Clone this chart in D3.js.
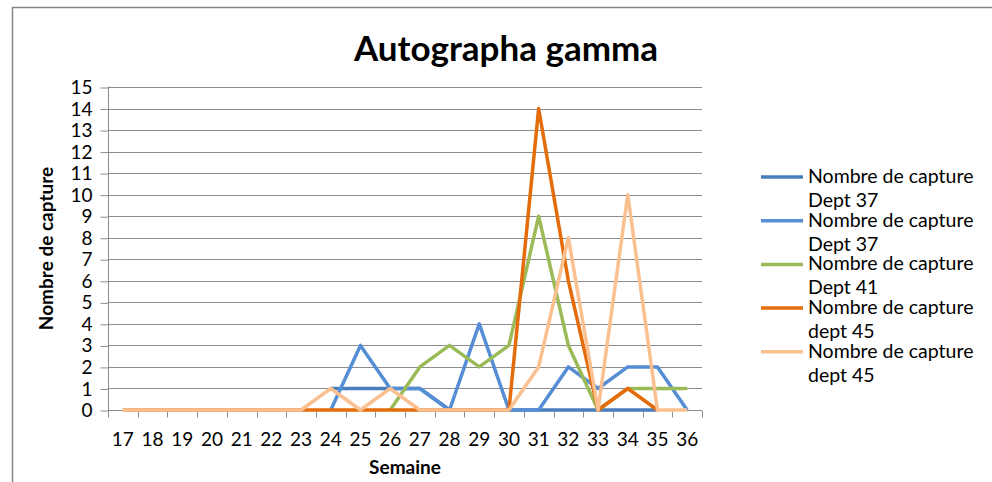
<!DOCTYPE html>
<html>
<head>
<meta charset="utf-8">
<script src="https://cdn.jsdelivr.net/npm/d3@7"></script>
<style>
  body { margin: 0; background: #fff; }
  text { font-family: Lato, "Open Sans", sans-serif; }
</style>
</head>
<body>
<div id="chart"></div>
<script>
const weeks = d3.range(17, 37);
const yTicks = d3.range(0, 16);

// null = pas de donnée cette semaine
const dept37a = [null, null, null, null, null, null, null, 1, 1, 1, 1, 0, 0, 0, 0, 0, 0, 0, 0, null];
const dept37b = [null, null, null, null, null, null, null, 0, 3, 1, 1, 0, 4, 0, 0, 2, 1, 2, 2, 0];
const dept41  = [null, null, null, null, null, null, null, null, null, 0, 2, 3, 2, 3, 9, 3, 0, 1, 1, 1];
const dept45a = [0, 0, 0, 0, 0, 0, 0, 0, 0, 0, 0, 0, 0, 0, 14, 6, 0, 1, 0, null];
const dept45b = [0, 0, 0, 0, 0, 0, 0, 1, 0, 1, 0, 0, 0, 0, 2, 8, 0, 10, 0, 0];

const series = [
  { name: ["Nombre de capture", "Dept 37"], values: dept37a, color: "#4a7ebb" },
  { name: ["Nombre de capture", "Dept 37"], values: dept37b, color: "#558ed5" },
  { name: ["Nombre de capture", "Dept 41"], values: dept41, color: "#9bbb59" },
  { name: ["Nombre de capture", "dept 45"], values: dept45a, color: "#e46c0a" },
  { name: ["Nombre de capture", "dept 45"], values: dept45b, color: "#fac090" }
];

const width = 992, height = 482;
const plot = { left: 108, right: 702, top: 87, bottom: 410 };

const svg = d3.select("#chart")
  .append("svg")
  .attr("width", width)
  .attr("height", height);

// cadre du graphique
svg.append("rect")
  .attr("x", 12.5).attr("y", 7.5)
  .attr("width", 1000).attr("height", 500)
  .attr("fill", "none")
  .attr("stroke", "#868686")
  .attr("stroke-width", 1.5);

const x = d3.scaleBand()
  .domain(weeks)
  .range([plot.left, plot.right]);

const y = d3.scaleLinear()
  .domain([0, 15])
  .range([plot.bottom, plot.top]);

// grille horizontale
svg.append("g")
  .selectAll("line")
  .data(yTicks.filter(d => d > 0))
  .join("line")
    .attr("x1", plot.left).attr("x2", plot.right)
    .attr("y1", d => Math.round(y(d)) + 0.5)
    .attr("y2", d => Math.round(y(d)) + 0.5)
    .attr("stroke", "#8c8c8c");

// axe Y
const yAxis = svg.append("g")
  .attr("transform", `translate(${plot.left + 0.5},0.5)`)
  .call(d3.axisLeft(y).tickValues(yTicks).tickSize(8).tickPadding(8));
yAxis.select(".domain").attr("stroke", "#8c8c8c").attr("d", `M0,${plot.top - 1}V${plot.bottom + 6}`);
yAxis.selectAll(".tick line").attr("stroke", "#8c8c8c");
yAxis.selectAll(".tick text")
  .attr("font-size", 19)
  .attr("fill", "#000")
  .style("font-family", "Lato, sans-serif");

// axe X
const xAxis = svg.append("g")
  .attr("transform", `translate(0,${Math.round(plot.bottom) + 0.5})`);
xAxis.append("line")
  .attr("x1", plot.left).attr("x2", plot.right)
  .attr("stroke", "#8c8c8c");
xAxis.selectAll(".tk")
  .data(weeks.concat([37]))
  .join("line")
    .attr("class", "tk")
    .attr("x1", (d, i) => Math.round(plot.left + i * x.bandwidth()) + 0.5)
    .attr("x2", (d, i) => Math.round(plot.left + i * x.bandwidth()) + 0.5)
    .attr("y1", 0).attr("y2", 7)
    .attr("stroke", "#8c8c8c");
xAxis.selectAll("text")
  .data(weeks)
  .join("text")
    .attr("x", d => x(d) + x.bandwidth() / 2)
    .attr("y", 35)
    .attr("text-anchor", "middle")
    .attr("font-size", 19)
    .text(d => d);

// courbes
const line = d3.line()
  .defined(d => d != null)
  .x((d, i) => x(weeks[i]) + x.bandwidth() / 2)
  .y(d => y(d));

svg.append("g")
  .selectAll("path")
  .data(series)
  .join("path")
    .attr("d", d => line(d.values))
    .attr("fill", "none")
    .attr("stroke", d => d.color)
    .attr("stroke-width", 3.5)
    .attr("stroke-linejoin", "round");

// titres
svg.append("text")
  .attr("x", 506).attr("y", 61)
  .attr("text-anchor", "middle")
  .attr("font-size", 35)
  .attr("font-weight", "bold")
  .text("Autographa gamma");

svg.append("text")
  .attr("x", 405).attr("y", 474)
  .attr("text-anchor", "middle")
  .attr("font-size", 19)
  .attr("font-weight", "bold")
  .text("Semaine");

svg.append("text")
  .attr("transform", `translate(53,${(plot.top + plot.bottom) / 2}) rotate(-90)`)
  .attr("text-anchor", "middle")
  .attr("font-size", 19)
  .attr("font-weight", "bold")
  .text("Nombre de capture");

// légende
const legend = svg.append("g")
  .selectAll("g")
  .data(series)
  .join("g")
    .attr("transform", (d, i) => `translate(761,${177 + i * 43.7})`);
legend.append("line")
  .attr("x1", 0).attr("x2", 42)
  .attr("stroke", d => d.color)
  .attr("stroke-width", 3.5);
legend.append("text")
  .attr("x", 47).attr("y", 6)
  .attr("font-size", 19.5)
  .text(d => d.name[0]);
legend.append("text")
  .attr("x", 47).attr("y", 30)
  .attr("font-size", 19.5)
  .text(d => d.name[1]);
</script>
</body>
</html>
